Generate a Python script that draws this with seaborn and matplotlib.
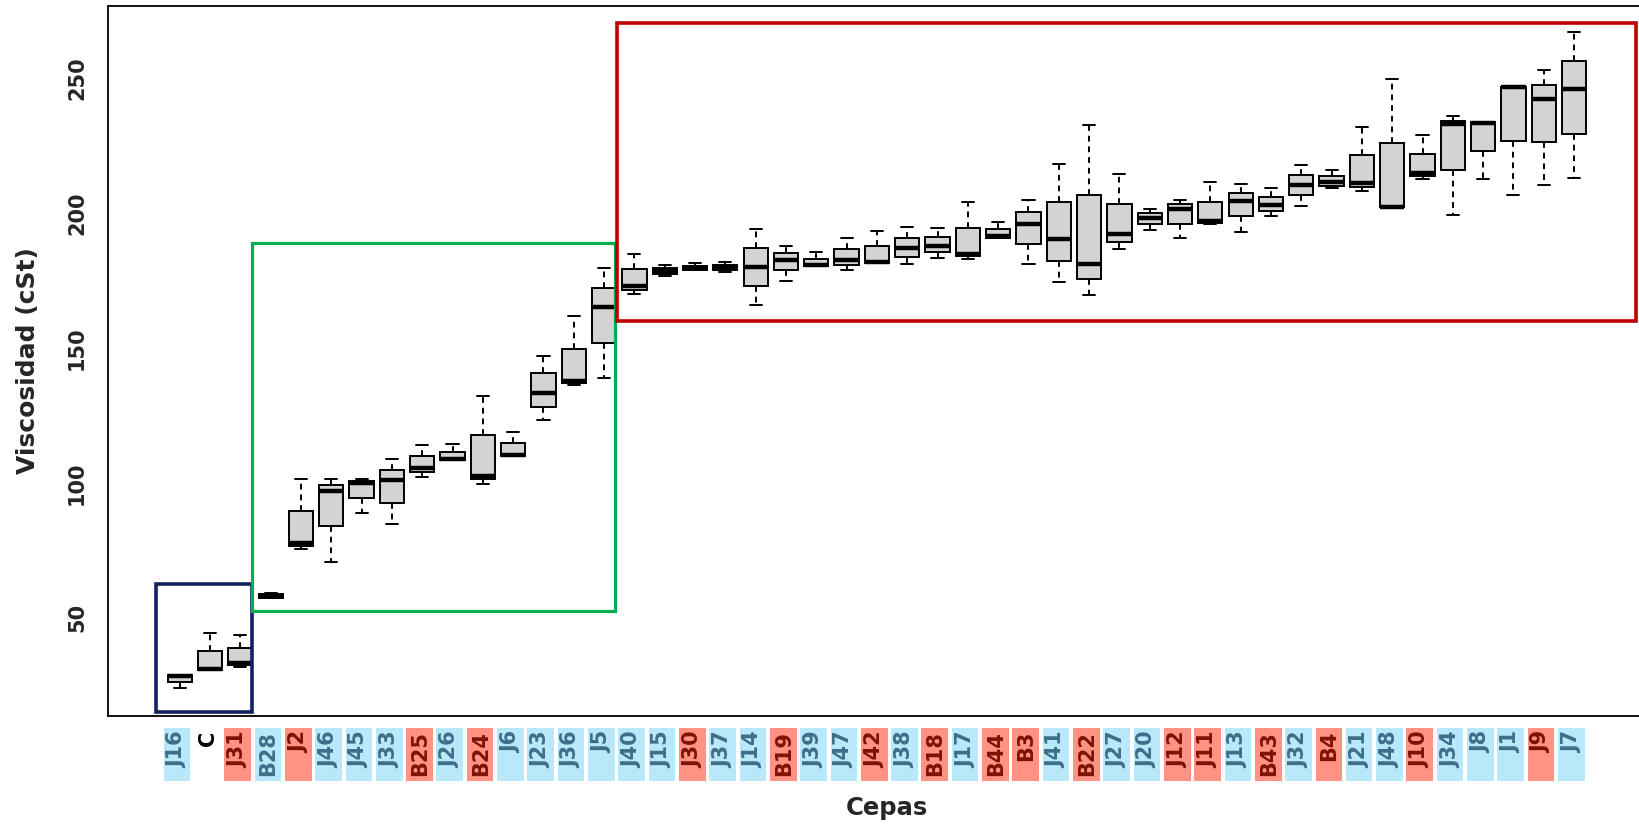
# boxplot de viscosidad por cepa

import matplotlib
matplotlib.use("Agg")
import matplotlib.pyplot as plt
import matplotlib.transforms as mtransforms
from matplotlib.patches import Rectangle
import seaborn as sns
import pandas as pd

cepas = ["J16", "C", "J31", "B28", "J2", "J46", "J45", "J33", "B25", "J26", "B24", "J6",
         "J23", "J36", "J5", "J40", "J15", "J30", "J37", "J14", "B19", "J39", "J47", "J42",
         "J38", "B18", "J17", "B44", "B3", "J41", "B22", "J27", "J20", "J12", "J11", "J13",
         "B43", "J32", "B4", "J21", "J48", "J10", "J34", "J8", "J1", "J9", "J7"]

# a = etiqueta azul, r = etiqueta roja, "" = sin fondo
grupo = ["a", "", "r", "a", "r", "a", "a", "a", "r", "a", "r", "a",
         "a", "a", "a", "a", "a", "r", "a", "a", "r", "a", "a", "r",
         "a", "r", "a", "r", "r", "a", "r", "a", "a", "r", "r", "a",
         "r", "a", "r", "a", "a", "r", "a", "a", "a", "r", "a"]

bigote_inf = [24.1, 30.6, 31.7, 57.2, 75.5, 70.8, 88.7, 84.7, 102.0, 108.5, 99.5, 110.1,
              123.2, 136.4, 138.8, 170.1, 176.6, 178.7, 178.0, 166.0, 174.9, 180.2, 178.7, 181.5,
              181.0, 183.4, 183.0, 190.9, 181.2, 174.3, 169.7, 186.6, 193.8, 190.7, 195.8, 192.8,
              198.7, 202.7, 209.1, 208.0, 202.2, 212.7, 199.3, 212.6, 206.5, 210.2, 212.8]
q1 = [26.3, 30.6, 32.6, 57.4, 76.7, 84.1, 94.4, 92.7, 103.9, 108.5, 101.4, 110.1,
      128.2, 137.0, 152.0, 171.5, 177.4, 178.7, 179.0, 172.9, 178.8, 180.2, 180.6, 181.5,
      183.8, 185.5, 184.1, 190.9, 188.4, 182.3, 175.5, 189.3, 196.0, 195.9, 196.3, 198.7,
      200.9, 206.5, 210.1, 209.6, 202.2, 213.7, 216.0, 223.0, 226.5, 226.3, 229.3]
mediana = [28.5, 31.0, 33.4, 58.2, 77.8, 97.1, 100.1, 100.9, 105.6, 108.9, 102.6, 110.4,
           133.3, 137.6, 165.0, 173.1, 178.5, 179.5, 180.0, 179.8, 182.7, 180.6, 182.5, 181.8,
           186.9, 187.9, 184.8, 191.5, 195.9, 190.3, 181.2, 192.1, 198.2, 201.6, 197.0, 204.4,
           203.0, 210.3, 211.3, 211.2, 202.3, 214.8, 232.9, 233.2, 246.6, 242.3, 245.9]
q3 = [28.9, 37.8, 38.7, 59.0, 89.7, 99.1, 100.7, 104.9, 109.8, 111.5, 117.6, 114.8,
      140.7, 149.7, 172.2, 179.1, 179.6, 180.4, 180.8, 187.0, 185.3, 183.0, 186.7, 187.6,
      190.9, 191.2, 194.6, 194.0, 200.4, 204.2, 206.8, 203.3, 199.9, 203.2, 204.2, 207.5,
      206.1, 214.0, 213.6, 221.5, 226.1, 221.8, 234.2, 233.6, 246.7, 247.6, 256.3]
bigote_sup = [28.9, 44.4, 43.8, 59.2, 101.6, 101.3, 101.3, 108.9, 114.0, 114.3, 132.3, 119.0,
              146.9, 161.7, 179.6, 184.9, 180.6, 181.4, 181.8, 194.1, 187.9, 185.4, 190.7, 193.2,
              194.9, 194.3, 204.0, 196.5, 204.9, 218.2, 232.5, 214.4, 201.5, 204.9, 211.4, 210.6,
              209.1, 217.9, 216.0, 231.8, 249.6, 228.9, 235.9, 233.6, 246.7, 252.9, 266.9]

y_ticks = [50, 100, 150, 200, 250]

# tabla larga: cinco puntos por cepa que reproducen el resumen de cada caja
df = pd.DataFrame({
    "Cepa": [c for c in cepas for _ in range(5)],
    "Viscosidad": [v for fila in zip(bigote_inf, q1, mediana, q3, bigote_sup) for v in fila],
})

sns.set_style("white")
plt.rcParams["font.family"] = ["DejaVu Sans"]

W, H = 1639, 826
fig = plt.figure(figsize=(W / 100, H / 100), dpi=100)
ax_left, ax_right, ax_top, ax_bottom = 107.6, 1646.2, 5.7, 715.5
ax = fig.add_axes([ax_left / W, 1 - ax_bottom / H, (ax_right - ax_left) / W, (ax_bottom - ax_top) / H])

sns.boxplot(data=df, x="Cepa", y="Viscosidad", order=cepas, color="#D3D3D3", saturation=1,
            width=0.8, linecolor="black", linewidth=1.4, whis=1.5, showfliers=False,
            medianprops={"linewidth": 3.2, "color": "black"},
            whiskerprops={"linestyle": (0, (3, 2.5))},
            ax=ax)

ax.set_xlim(-2.38, 48.38)
ax.set_ylim(13.8, 276.8)
ax.set_xlabel("")
ax.set_ylabel("")

for s in ax.spines.values():
    s.set_color("black")
    s.set_linewidth(1.3)

ax.set_xticks(range(len(cepas)))
ax.set_xticklabels([])
ax.set_yticks(y_ticks)
ax.set_yticklabels([str(t) for t in y_ticks], rotation=90, va="center",
                   fontsize=15, fontweight="bold")
ax.tick_params(axis="both", direction="out", width=1.2, color="black")
ax.tick_params(axis="x", length=7.9)
ax.tick_params(axis="y", length=11.3, pad=3.5)

# etiquetas de las cepas con fondo de color
trans = mtransforms.blended_transform_factory(ax.transData, fig.transFigure)
fondo = {"a": "#B9E8FA", "r": "#FF9282"}
texto = {"a": "#3D6E8A", "r": "#7E1206", "": "black"}
caja_top, caja_bot = 1 - 728 / H, 1 - 781 / H
for i, (c, g) in enumerate(zip(cepas, grupo)):
    if g:
        ax.add_patch(Rectangle((i - 0.53, caja_bot), 0.88, caja_top - caja_bot,
                               transform=trans, facecolor=fondo[g], edgecolor="none",
                               clip_on=False, zorder=1))
    ax.text(i - 0.07, 1 - 731 / H, c, transform=trans, rotation=90, ha="center", va="top",
            fontsize=15, fontweight="bold", color=texto[g], clip_on=False, zorder=2)

# recuadros de agrupamiento
grupos_rect = [(-0.79, 15.0, 2.39, 62.7, "#0D2260", 2.6),
               (2.39, 52.7, 14.35, 188.8, "#00B050", 2.3),
               (14.44, 159.8, 48.04, 270.3, "#C00000", 2.6)]
for x0, y0, x1, y1, col, lw in grupos_rect:
    ax.add_patch(Rectangle((x0, y0), x1 - x0, y1 - y0, fill=False, edgecolor=col,
                           linewidth=lw, clip_on=False, zorder=6))

fig.text(887 / W, 1 - 808 / H, "Cepas", ha="center", va="center",
         fontsize=17.5, fontweight="bold")
fig.text(28 / W, 1 - 361 / H, "Viscosidad (cSt)", ha="center", va="center",
         rotation=90, fontsize=18, fontweight="bold")

fig.savefig("out.png", dpi=100)
